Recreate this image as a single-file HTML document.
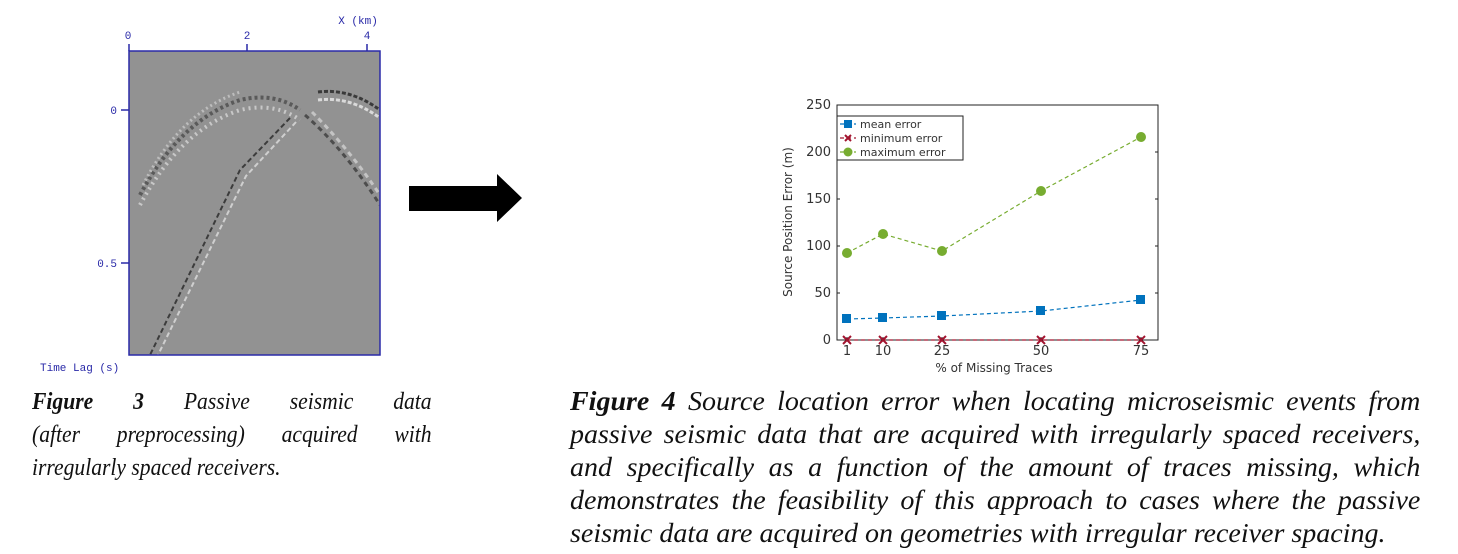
<!DOCTYPE html>
<html><head><meta charset="utf-8"><style>
html,body{margin:0;padding:0;background:#fff;width:1458px;height:554px;overflow:hidden;position:relative}
.cap{position:absolute;font-family:"Liberation Serif",serif;font-style:italic;font-size:24px;line-height:33px;color:#111;white-space:nowrap;transform-origin:0 0;text-align:justify;text-align-last:justify}
.f3{transform:scaleX(0.9);width:444px}
.f4{font-size:27px;transform:scaleX(1.037);width:820px}
.last{text-align-last:left}
b{font-weight:bold}
</style></head><body>
<svg width="1458" height="554" style="position:absolute;left:0;top:0" font-family="Liberation Mono, monospace">
<defs><clipPath id="c"><rect x="129" y="51" width="251" height="304"/></clipPath></defs>
<rect x="129" y="51" width="251" height="304" fill="#929292"/>
<g clip-path="url(#c)" fill="none">
 <path d="M140,195 Q180,120 240,100 Q275,92 300,110" stroke="#5a5a5a" stroke-width="4" stroke-dasharray="3 3"/>
 <path d="M140,205 Q180,130 240,110 Q275,102 300,120" stroke="#c8c8c8" stroke-width="4" stroke-dasharray="2 4"/>
 <path d="M143,185 Q180,112 240,92" stroke="#bdbdbd" stroke-width="3" stroke-dasharray="2 3"/>
 <path d="M318,92 Q350,88 380,110" stroke="#3a3a3a" stroke-width="3" stroke-dasharray="4 2"/>
 <path d="M318,100 Q350,96 380,118" stroke="#dadada" stroke-width="3" stroke-dasharray="4 2"/>
 <path d="M305,115 Q345,150 380,205" stroke="#4d4d4d" stroke-width="3" stroke-dasharray="5 4"/>
 <path d="M312,112 Q350,150 380,195" stroke="#c4c4c4" stroke-width="3" stroke-dasharray="5 4"/>
 <path d="M290,118 L240,170 L150,355" stroke="#3c3c3c" stroke-width="2" stroke-dasharray="5 3"/>
 <path d="M296,122 L246,176 L158,355" stroke="#cfcfcf" stroke-width="2" stroke-dasharray="5 3"/>
</g>
<g stroke="#2a2aa8" stroke-width="1.5" fill="none">
 <rect x="129" y="51" width="251" height="304"/>
 <path d="M129,51v-7M247,51v-7M367,51v-7M129,110h-8M129,263h-8"/>
</g>
<g fill="#2a2aa8" font-size="11">
 <text x="128" y="39" text-anchor="middle">0</text>
 <text x="247" y="39" text-anchor="middle">2</text>
 <text x="367" y="39" text-anchor="middle">4</text>
 <text x="358" y="24" text-anchor="middle">X (km)</text>
 <text x="117" y="114" text-anchor="end">0</text>
 <text x="117" y="267" text-anchor="end">0.5</text>
 <text x="40" y="371">Time Lag (s)</text>
</g>
<path d="M409,186H497V174L522,198L497,222V211H409Z" fill="#000"/>
<g font-family="DejaVu Sans, sans-serif" font-size="11" fill="#333">
 <rect x="837" y="105" width="321" height="235" fill="#fff" stroke="#222" stroke-width="1"/>
 <g stroke="#222" stroke-width="1">
  <path d="M847,340v-3M883,340v-3M942,340v-3M1041,340v-3M1141,340v-3"/>
  <path d="M837,105h3M837,152h3M837,199h3M837,246h3M837,293h3M1158,105h-3M1158,152h-3M1158,199h-3M1158,246h-3M1158,293h-3"/>
 </g>
 <g font-size="13" text-anchor="end">
  <text x="831" y="344">0</text><text x="831" y="297">50</text><text x="831" y="250">100</text><text x="831" y="203">150</text><text x="831" y="156">200</text><text x="831" y="109">250</text>
 </g>
 <g font-size="13" text-anchor="middle">
  <text x="847" y="355">1</text><text x="883" y="355">10</text><text x="942" y="355">25</text><text x="1041" y="355">50</text><text x="1141" y="355">75</text>
  <text x="994" y="372" font-size="12">% of Missing Traces</text>
  <text transform="translate(792,222) rotate(-90)" font-size="12">Source Position Error (m)</text>
 </g>
 <polyline points="847,253 883,234 942,251 1041,191 1141,137" fill="none" stroke="#77ac30" stroke-width="1.2" stroke-dasharray="4 3"/>
 <polyline points="847,319 883,318 942,316 1041,311 1141,300" fill="none" stroke="#0072bd" stroke-width="1.2" stroke-dasharray="4 3"/>
 <polyline points="847,340 883,340 942,340 1041,340 1141,340" fill="none" stroke="#a2142f" stroke-width="1.2" stroke-dasharray="4 3"/>
 <g fill="#77ac30"><circle cx="847" cy="253" r="5"/><circle cx="883" cy="234" r="5"/><circle cx="942" cy="251" r="5"/><circle cx="1041" cy="191" r="5"/><circle cx="1141" cy="137" r="5"/></g>
 <g fill="#0072bd"><rect x="842" y="314" width="9" height="9"/><rect x="878" y="313" width="9" height="9"/><rect x="937" y="311" width="9" height="9"/><rect x="1036" y="306" width="9" height="9"/><rect x="1136" y="295" width="9" height="9"/></g>
 <g stroke="#a2142f" stroke-width="2"><path d="M843,336l8,8M851,336l-8,8M879,336l8,8M887,336l-8,8M938,336l8,8M946,336l-8,8M1037,336l8,8M1045,336l-8,8M1137,336l8,8M1145,336l-8,8"/></g>
 <rect x="837" y="116" width="126" height="44" fill="#fff" stroke="#222" stroke-width="1"/>
 <path d="M840,124h16" stroke="#0072bd" stroke-width="1.2" stroke-dasharray="4 3"/><rect x="844" y="120" width="8" height="8" fill="#0072bd"/>
 <path d="M840,138h16" stroke="#a2142f" stroke-width="1.2" stroke-dasharray="4 3"/><path d="M845,135l6,6M851,135l-6,6" stroke="#a2142f" stroke-width="2"/>
 <path d="M840,152h16" stroke="#77ac30" stroke-width="1.2" stroke-dasharray="4 3"/><circle cx="848" cy="152" r="4.5" fill="#77ac30"/>
 <text x="860" y="128">mean error</text><text x="860" y="142">minimum error</text><text x="860" y="156">maximum error</text>
</g>
</svg>
<div class="cap f3" style="left:32px;top:386px"><b>Figure 3</b> Passive seismic data</div>
<div class="cap f3" style="left:32px;top:419px">(after preprocessing) acquired with</div>
<div class="cap f3 last" style="left:32px;top:452px">irregularly spaced receivers.</div>
<div class="cap f4" style="left:570px;top:385px"><b>Figure 4</b> Source location error when locating microseismic events from</div>
<div class="cap f4" style="left:570px;top:418px">passive seismic data that are acquired with irregularly spaced receivers,</div>
<div class="cap f4" style="left:570px;top:451px">and specifically as a function of the amount of traces missing, which</div>
<div class="cap f4" style="left:570px;top:484px">demonstrates the feasibility of this approach to cases where the passive</div>
<div class="cap f4 last" style="left:570px;top:517px">seismic data are acquired on geometries with irregular receiver spacing.</div>
</body></html>
